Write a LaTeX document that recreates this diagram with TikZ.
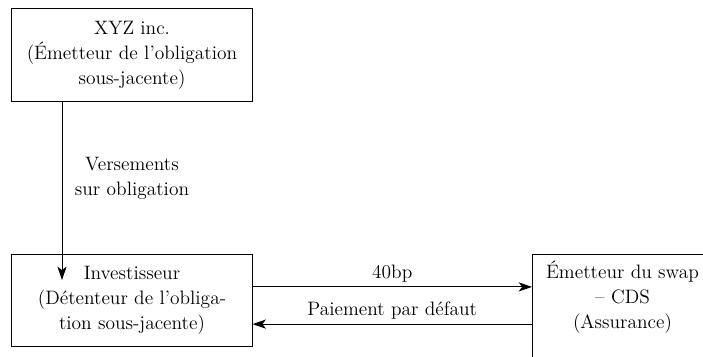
\documentclass[tikz,border=0pt]{standalone}
\usepackage{tikz}
\usetikzlibrary{positioning, arrows.meta}
\newcommand{\diagfont}{\fontsize{13.8}{17.8}\selectfont}

\begin{document}
\begin{tikzpicture}[
    x=0.025cm, y=-0.025cm,
    party/.style={rectangle, draw, line width=0.7pt, minimum width=6cm, minimum height=2.32cm, align=center, font=\diagfont, inner sep=2pt},
    tag/.style={align=center, font=\diagfont, inner sep=1pt},
    flow/.style={draw, line width=0.7pt, -{Stealth[length=9.5pt, width=6.5pt, inset=2.5pt]}}
]
  \useasboundingbox (0,0) rectangle (703,356);
  \clip (0,0) rectangle (703,356);
  % the three parties
  \node[party] (xyz) at (132,55) {XYZ inc.\\(Émetteur de l’obligation\\sous-jacente)};
  \node[party] (inv) at (132,300.5) {Investisseur\\(Détenteur de l’obliga-\\tion sous-jacente)};
  \node[party, minimum width=4.5cm, minimum height=3cm, anchor=north west] (cds) at (532,254) {};
  \node[tag, below=0.12cm of cds.north] (cdsname) {Émetteur du swap\\– CDS\\(Assurance)};
  % flows
  \coordinate (tip) at (62,280);
  \draw[flow] (xyz.south -| tip) -- (tip);
  \node[tag] (coupon) at (132,178) {Versements\\sur obligation};
  \draw[flow] ([yshift=0.34cm]inv.east) -- ([yshift=0.34cm]inv.east -| cds.west)
    node[tag, midway, above=2pt] (prime) {40bp};
  \draw[flow] ([yshift=-0.59cm]inv.east -| cds.west) -- ([yshift=-0.59cm]inv.east)
    node[tag, midway, above=2pt] (defaut) {Paiement par défaut};
\end{tikzpicture}
\end{document}
